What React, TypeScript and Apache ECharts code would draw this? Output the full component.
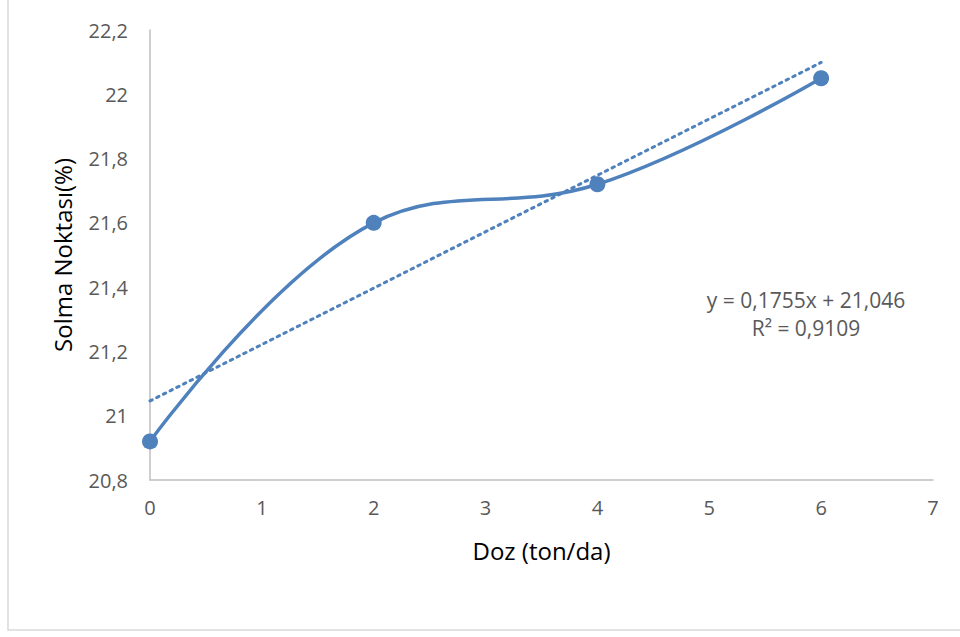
import React, { useEffect, useRef } from "react";
import * as echarts from "echarts";

const doses = [0, 2, 4, 6];
const wiltingPoint = [20.92, 21.6, 21.72, 22.05];
const trendSlope = 0.1755;
const trendIntercept = 21.046;
const trendX = [0, 6];
const equationLines = ["y = 0,1755x + 21,046", "R² = 0,9109"];
const xTitle = "Doz (ton/da)";
const yTitle = "Solma Noktası(%)";

const BLUE = "#4F81BD";
const FONT = "'Open Sans', 'Noto Sans', sans-serif";

export default function App() {
  const ref = useRef<HTMLDivElement>(null);
  useEffect(() => {
    if (!ref.current) return;
    const chart = echarts.init(ref.current, undefined, { renderer: "svg" });
    const fmt = (v: number) => String(Number(v.toFixed(1))).replace(".", ",");
    chart.setOption({
      animation: false,
      backgroundColor: "#ffffff",
      grid: { left: 150, right: 27, top: 30, bottom: 157, containLabel: false },
      xAxis: {
        type: "value",
        min: 0,
        max: 7,
        interval: 1,
        axisLine: { show: true, lineStyle: { color: "#BFBFBF", width: 1.5 } },
        axisTick: { show: false },
        splitLine: { show: false },
        axisLabel: { color: "#595959", fontSize: 20, fontFamily: FONT, margin: 17 },
        name: xTitle,
        nameLocation: "middle",
        nameGap: 58,
        nameTextStyle: { color: "#000", fontSize: 24, fontFamily: FONT },
      },
      yAxis: {
        type: "value",
        min: 20.8,
        max: 22.2,
        interval: 0.2,
        axisLine: { show: true, lineStyle: { color: "#BFBFBF", width: 1.5 } },
        axisTick: { show: false },
        splitLine: { show: false },
        axisLabel: { color: "#595959", fontSize: 20, fontFamily: FONT, margin: 22, formatter: fmt },
        name: yTitle,
        nameLocation: "middle",
        nameGap: 76,
        nameTextStyle: { color: "#000", fontSize: 24, fontFamily: FONT },
      },
      series: [
        {
          type: "line",
          data: trendX.map((x) => [x, trendIntercept + trendSlope * x]),
          showSymbol: false,
          symbol: "none",
          lineStyle: { color: BLUE, width: 3, type: [2.5, 5], cap: "round" },
          z: 1,
        },
        {
          type: "line",
          data: doses.map((d, i) => [d, wiltingPoint[i]]),
          smooth: 0.4,
          symbol: "circle",
          symbolSize: 16,
          itemStyle: { color: BLUE },
          lineStyle: { color: BLUE, width: 3.5 },
          z: 2,
        },
      ],
      graphic: [
        {
          type: "rect",
          shape: { x: 8, y: -5, width: 970, height: 635 },
          style: { fill: "none", stroke: "#D9D9D9", lineWidth: 1.5 },
          silent: true,
        },
        {
          type: "text",
          x: 806,
          y: 300,
          style: {
            text: equationLines[0],
            fill: "#595959",
            fontSize: 21,
            fontFamily: FONT,
            align: "center",
            verticalAlign: "middle",
          },
        },
        {
          type: "text",
          x: 806,
          y: 328,
          style: {
            text: equationLines[1],
            fill: "#595959",
            fontSize: 21,
            fontFamily: FONT,
            align: "center",
            verticalAlign: "middle",
          },
        },
      ],
    });
    return () => chart.dispose();
  }, []);
  return <div ref={ref} style={{ width: 960, height: 637, position: "absolute", left: 0, top: 0 }} />;
}
